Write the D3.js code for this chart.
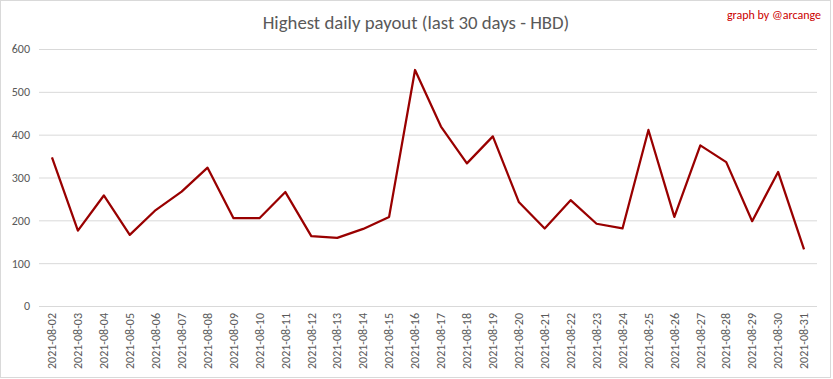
<!DOCTYPE html>
<html><head><meta charset="utf-8">
<script src="https://cdn.jsdelivr.net/npm/d3@7"></script>
<style>body{margin:0;background:#fff}svg{display:block}</style>
</head><body>
<svg id="c" width="833" height="379"></svg>
<script>
const dates = ["2021-08-02","2021-08-03","2021-08-04","2021-08-05","2021-08-06","2021-08-07","2021-08-08","2021-08-09","2021-08-10","2021-08-11","2021-08-12","2021-08-13","2021-08-14","2021-08-15","2021-08-16","2021-08-17","2021-08-18","2021-08-19","2021-08-20","2021-08-21","2021-08-22","2021-08-23","2021-08-24","2021-08-25","2021-08-26","2021-08-27","2021-08-28","2021-08-29","2021-08-30","2021-08-31"];
const payouts = [347,176,258,166,224,267,323,205,205,266,163,159,180,208,551,419,333,396,243,181,247,192,181,411,208,375,336,198,313,132];
const yTicks = [0,100,200,300,400,500,600];
const titleText = "Highest daily payout (last 30 days - HBD)";
const creditText = "graph by @arcange";

const svg = d3.select("#c");
const font = "Calibri, Carlito, 'Liberation Sans Narrow', Lato, 'Open Sans', sans-serif";
svg.append("rect").attr("x",0.5).attr("y",0.5).attr("width",830).attr("height",377)
  .attr("fill","#fff").attr("stroke","#d9d9d9");

const x = d3.scaleBand().domain(dates).range([39,817]);
const y = d3.scaleLinear().domain([0,600]).range([306,49]);

// gridlines
svg.append("g").selectAll("line").data(yTicks).join("line")
  .attr("x1",39).attr("x2",817).attr("y1",d=>y(d)+0.5).attr("y2",d=>y(d)+0.5)
  .attr("stroke","#d9d9d9").attr("stroke-width",1);

// y labels
const yAxis = svg.append("g").attr("transform","translate(30,0)")
  .call(d3.axisLeft(y).tickValues(yTicks).tickSize(0).tickPadding(0));
yAxis.select(".domain").remove();
yAxis.selectAll("text").attr("fill","#595959").style("font-family",font).style("font-size","12px");

// x labels
const xAxis = svg.append("g").attr("transform","translate(0,306)")
  .call(d3.axisBottom(x).tickSize(0).tickPadding(0));
xAxis.select(".domain").remove();
xAxis.selectAll("text").attr("fill","#595959").style("font-family",font).style("font-size","12px")
  .attr("transform","rotate(-90)").attr("text-anchor","end").attr("x",-7).attr("y",0).attr("dy","0.35em");

// line
const line = d3.line().x(d=>x(d.date)+x.bandwidth()/2).y(d=>y(d.v));
svg.append("path").datum(dates.map((d,i)=>({date:d,v:payouts[i]})))
  .attr("d",line).attr("fill","none").attr("stroke","#990000").attr("stroke-width",2.25)
  .attr("stroke-linejoin","round");

// title
svg.append("text").attr("x",416).attr("y",29).attr("text-anchor","middle")
  .attr("fill","#595959").style("font-family",font).style("font-size","18.8px").style("font-weight","300")
  .text(titleText);
svg.append("text").attr("x",821).attr("y",19).attr("text-anchor","end")
  .attr("fill","#cc0000").style("font-family",font).style("font-size","12px")
  .text(creditText);
</script>
</body></html>
